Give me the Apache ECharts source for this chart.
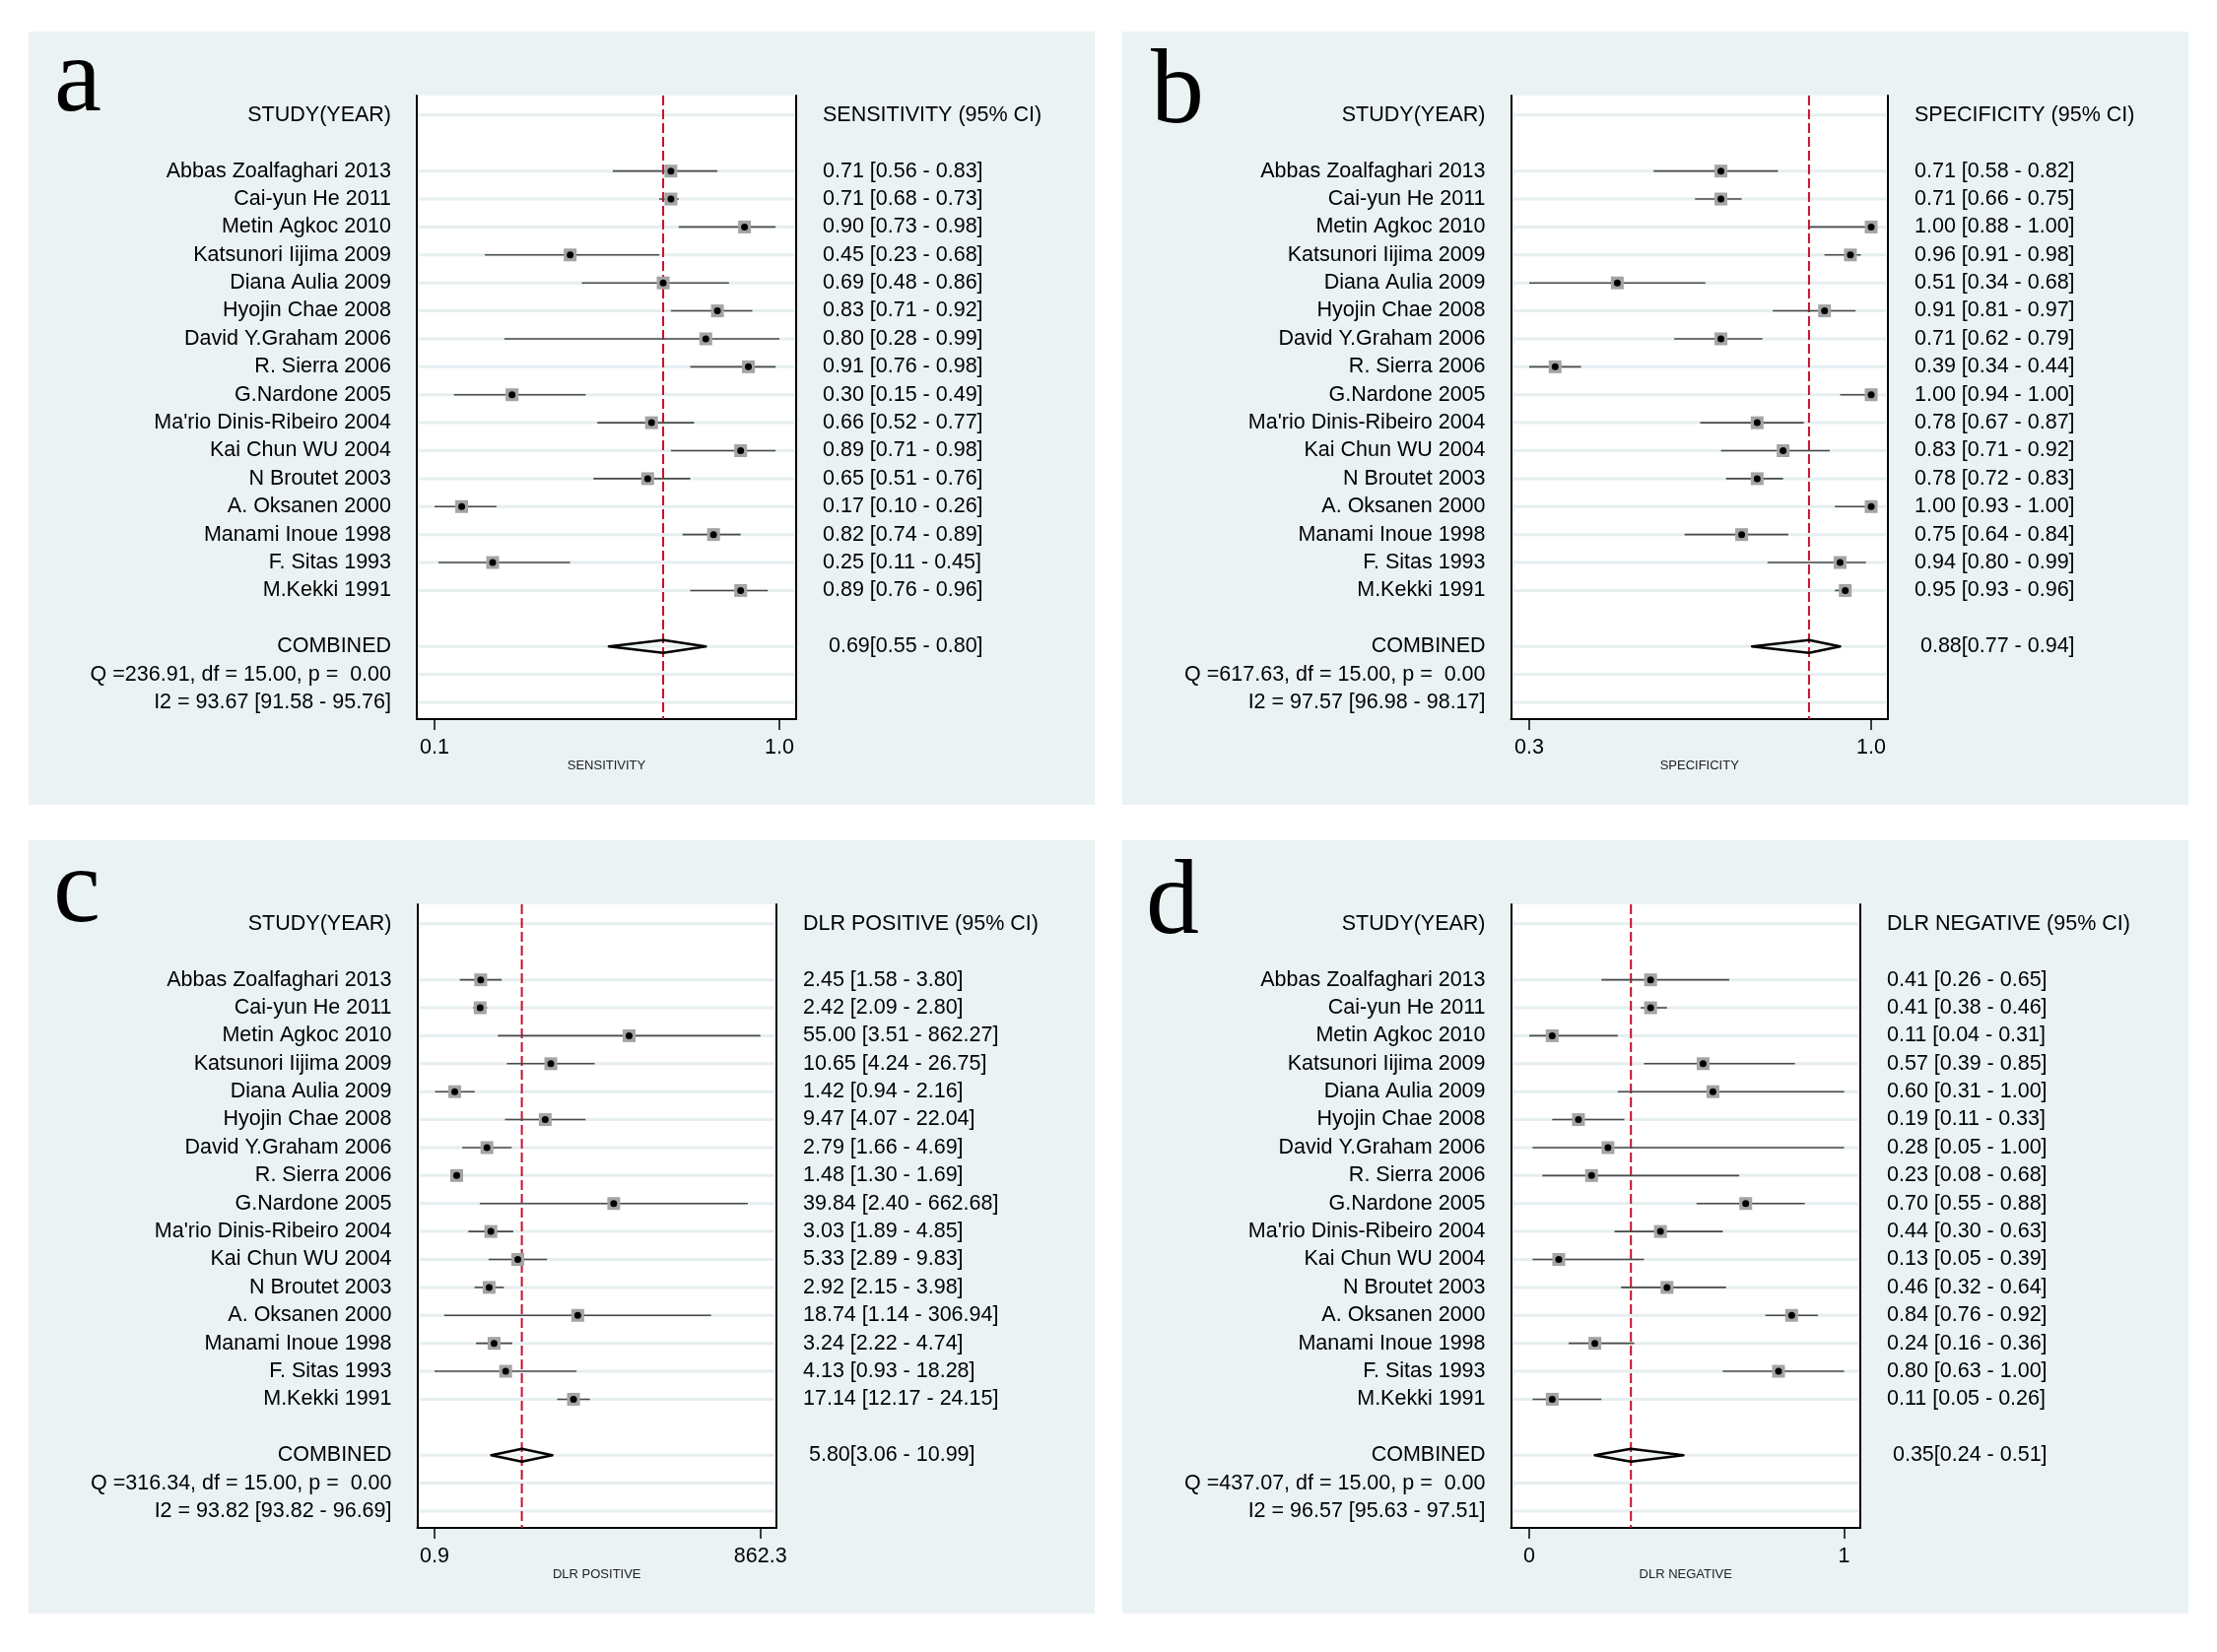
<!DOCTYPE html>
<html>
<head>
<meta charset="utf-8">
<script src="https://cdn.jsdelivr.net/npm/echarts@6/dist/echarts.min.js"></script>
<style>html,body{margin:0;padding:0;background:#fff}#c{width:2250px;height:1677px}</style>
</head>
<body>
<div id="c"></div>
<script>
// ---------------- DATA ----------------
const studies = ["Abbas Zoalfaghari 2013","Cai-yun He 2011","Metin Agkoc 2010","Katsunori Iijima 2009","Diana Aulia 2009","Hyojin Chae 2008","David Y.Graham 2006","R. Sierra 2006","G.Nardone 2005","Ma'rio Dinis-Ribeiro 2004","Kai Chun WU 2004","N Broutet 2003","A. Oksanen 2000","Manami Inoue 1998","F. Sitas 1993","M.Kekki 1991"];

const sensEst = [0.71,0.71,0.90,0.45,0.69,0.83,0.80,0.91,0.30,0.66,0.89,0.65,0.17,0.82,0.25,0.89];
const sensLo  = [0.56,0.68,0.73,0.23,0.48,0.71,0.28,0.76,0.15,0.52,0.71,0.51,0.10,0.74,0.11,0.76];
const sensHi  = [0.83,0.73,0.98,0.68,0.86,0.92,0.99,0.98,0.49,0.77,0.98,0.76,0.26,0.89,0.45,0.96];
const sensCombined = [0.69,0.55,0.80];
const sensQ  = [236.91,15.00,0.00];
const sensI2 = [93.67,91.58,95.76];
const sensTicks = [0.10,0.99];
const sensTickLabels = ["0.1","1.0"];

const specEst = [0.71,0.71,1.00,0.96,0.51,0.91,0.71,0.39,1.00,0.78,0.83,0.78,1.00,0.75,0.94,0.95];
const specLo  = [0.58,0.66,0.88,0.91,0.34,0.81,0.62,0.34,0.94,0.67,0.71,0.72,0.93,0.64,0.80,0.93];
const specHi  = [0.82,0.75,1.00,0.98,0.68,0.97,0.79,0.44,1.00,0.87,0.92,0.83,1.00,0.84,0.99,0.96];
const specCombined = [0.88,0.77,0.94];
const specQ  = [617.63,15.00,0.00];
const specI2 = [97.57,96.98,98.17];
const specTicks = [0.34,1.00];
const specTickLabels = ["0.3","1.0"];

const plrEst = [2.45,2.42,55.00,10.65,1.42,9.47,2.79,1.48,39.84,3.03,5.33,2.92,18.74,3.24,4.13,17.14];
const plrLo  = [1.58,2.09,3.51,4.24,0.94,4.07,1.66,1.30,2.40,1.89,2.89,2.15,1.14,2.22,0.93,12.17];
const plrHi  = [3.80,2.80,862.27,26.75,2.16,22.04,4.69,1.69,662.68,4.85,9.83,3.98,306.94,4.74,18.28,24.15];
const plrCombined = [5.80,3.06,10.99];
const plrQ  = [316.34,15.00,0.00];
const plrI2 = [93.82,93.82,96.69];
const plrTicks = [0.93,862.27];
const plrTickLabels = ["0.9","862.3"];

const nlrEst = [0.41,0.41,0.11,0.57,0.60,0.19,0.28,0.23,0.70,0.44,0.13,0.46,0.84,0.24,0.80,0.11];
const nlrLo  = [0.26,0.38,0.04,0.39,0.31,0.11,0.05,0.08,0.55,0.30,0.05,0.32,0.76,0.16,0.63,0.05];
const nlrHi  = [0.65,0.46,0.31,0.85,1.00,0.33,1.00,0.68,0.88,0.63,0.39,0.64,0.92,0.36,1.00,0.26];
const nlrCombined = [0.35,0.24,0.51];
const nlrQ  = [437.07,15.00,0.00];
const nlrI2 = [96.57,95.63,97.51];
const nlrTicks = [0.04,1.00];
const nlrTickLabels = ["0","1"];

const panelLetters = ["a","b","c","d"];
const leftHeader = "STUDY(YEAR)";
const combinedLabel = "COMBINED";
const rightHeaders = ["SENSITIVITY (95% CI)","SPECIFICITY (95% CI)","DLR POSITIVE (95% CI)","DLR NEGATIVE (95% CI)"];
const axisNames = ["SENSITIVITY","SPECIFICITY","DLR POSITIVE","DLR NEGATIVE"];

// ---------------- LAYOUT / STYLE ----------------
const FONT = '"Liberation Sans", Arial, sans-serif';
const SERIF = '"Liberation Serif", "Times New Roman", serif';
const layout = [
  {bg:[29,32,1082,785],   grid:[423,97,385,633],      letter:[55,84],   type:'value', range:[0.0542,1.0332]},
  {bg:[1139,32,1082,785], grid:[1533.5,97,382.5,633], letter:[1168,96], type:'value', range:[0.3048,1.0323]},
  {bg:[29,853,1082,785],  grid:[423.5,918,364.5,633], letter:[54,907],  type:'log',   range:[0.6478,1207.8]},
  {bg:[1139,853,1082,785],grid:[1533.5,918,354.5,633],letter:[1163,919],type:'value', range:[-0.0156,1.0493]}
];
const Y_RANGE = [-0.70, 21.60];
const HEADER_ROW = 0, FIRST_STUDY_ROW = 2, COMBINED_ROW = 19, Q_ROW = 20, I2_ROW = 21;

const panels = [
  {est:sensEst, lo:sensLo, hi:sensHi, comb:sensCombined, q:sensQ, i2:sensI2, ticks:sensTicks, tickLabels:sensTickLabels},
  {est:specEst, lo:specLo, hi:specHi, comb:specCombined, q:specQ, i2:specI2, ticks:specTicks, tickLabels:specTickLabels},
  {est:plrEst,  lo:plrLo,  hi:plrHi,  comb:plrCombined,  q:plrQ,  i2:plrI2,  ticks:plrTicks,  tickLabels:plrTickLabels},
  {est:nlrEst,  lo:nlrLo,  hi:nlrHi,  comb:nlrCombined,  q:nlrQ,  i2:nlrI2,  ticks:nlrTicks,  tickLabels:nlrTickLabels}
];

const f2 = v => v.toFixed(2);

const grids = [], xAxes = [], yAxes = [], series = [], graphics = [];

panels.forEach((p, k) => {
  const L = layout[k];
  graphics.push({type:'rect', z:-10, silent:true, shape:{x:L.bg[0], y:L.bg[1], width:L.bg[2], height:L.bg[3]}, style:{fill:'#eaf2f3'}});
  graphics.push({type:'text', z:10, silent:true, x:L.letter[0], y:L.letter[1],
    style:{text:panelLetters[k], font:'108px ' + SERIF, fill:'#000', align:'left', verticalAlign:'middle'}});

  grids.push({left:L.grid[0], top:L.grid[1], width:L.grid[2], height:L.grid[3], show:true, backgroundColor:'#ffffff', borderWidth:0, containLabel:false});

  const leftText = {}, rightText = {};
  leftText[HEADER_ROW] = leftHeader;
  rightText[HEADER_ROW] = rightHeaders[k];
  studies.forEach((s, i) => {
    leftText[FIRST_STUDY_ROW + i] = s;
    rightText[FIRST_STUDY_ROW + i] = f2(p.est[i]) + ' [' + f2(p.lo[i]) + ' - ' + f2(p.hi[i]) + ']';
  });
  leftText[COMBINED_ROW] = combinedLabel;
  rightText[COMBINED_ROW] = ' ' + f2(p.comb[0]) + '[' + f2(p.comb[1]) + ' - ' + f2(p.comb[2]) + ']';
  leftText[Q_ROW] = 'Q =' + f2(p.q[0]) + ', df = ' + f2(p.q[1]) + ', p =  ' + f2(p.q[2]);
  leftText[I2_ROW] = 'I2 = ' + f2(p.i2[0]) + ' [' + f2(p.i2[1]) + ' - ' + f2(p.i2[2]) + ']';
  const leftRows = Object.keys(leftText).map(Number);
  const rightRows = Object.keys(rightText).map(Number);

  const nearestTick = v => {
    let best = 0, bd = Infinity;
    p.ticks.forEach((t, i) => { const d = Math.abs(v - t) / Math.max(Math.abs(t), 1e-9); if (d < bd) { bd = d; best = i; } });
    return p.tickLabels[best];
  };

  xAxes.push({
    gridIndex:k, type:L.type, logBase:10, min:L.range[0], max:L.range[1], position:'bottom',
    axisLine:{show:true, onZero:false, lineStyle:{color:'#000', width:2}},
    axisTick:{show:true, customValues:p.ticks, length:11, lineStyle:{color:'#000', width:1.5}},
    axisLabel:{show:true, customValues:p.ticks, formatter:v => nearestTick(v), margin:18, fontSize:21.5, color:'#000', fontFamily:FONT},
    splitLine:{show:false}, minorTick:{show:false},
    name:axisNames[k], nameLocation:'middle', nameGap:41,
    nameTextStyle:{fontSize:13, color:'#222', fontFamily:FONT}
  });

  yAxes.push({
    gridIndex:k, type:'value', inverse:true, min:Y_RANGE[0], max:Y_RANGE[1], position:'left',
    axisLine:{show:true, onZero:false, lineStyle:{color:'#000', width:2}},
    axisTick:{show:false}, splitLine:{show:false},
    axisLabel:{show:true, customValues:leftRows, formatter:v => leftText[Math.round(v)] || '', margin:26, fontSize:21.5, color:'#000', fontFamily:FONT}
  });
  yAxes.push({
    gridIndex:k, type:'value', inverse:true, min:Y_RANGE[0], max:Y_RANGE[1], position:'right',
    axisLine:{show:true, onZero:false, lineStyle:{color:'#000', width:2}},
    axisTick:{show:false}, splitLine:{show:false},
    axisLabel:{show:true, customValues:rightRows, formatter:v => rightText[Math.round(v)] || '', margin:27, align:'left', fontSize:21.5, color:'#000', fontFamily:FONT}
  });

  const yi = 2 * k;
  const gridRows = [HEADER_ROW].concat(studies.map((s, i) => FIRST_STUDY_ROW + i), [COMBINED_ROW, Q_ROW, I2_ROW]);

  series.push({
    type:'custom', xAxisIndex:k, yAxisIndex:yi, z:1, silent:true, clip:false,
    encode:{x:0, y:1},
    data:gridRows.map(r => [p.comb[0], r]),
    renderItem:(params, api) => {
      const cs = params.coordSys;
      const y = api.coord([api.value(0), api.value(1)])[1];
      return {type:'line', shape:{x1:cs.x + 2, y1:y, x2:cs.x + cs.width - 2, y2:y}, style:{stroke:'#e6eef0', lineWidth:3}};
    }
  });
  series.push({
    type:'custom', xAxisIndex:k, yAxisIndex:yi, z:2, silent:true, clip:false,
    encode:{x:0, y:1},
    data:[[p.comb[0], COMBINED_ROW]],
    renderItem:(params, api) => {
      const cs = params.coordSys;
      const x = api.coord([api.value(0), api.value(1)])[0];
      return {type:'line', shape:{x1:x, y1:cs.y, x2:x, y2:cs.y + cs.height}, style:{stroke:'#c8102e', lineWidth:2, lineDash:[10,4]}};
    }
  });
  series.push({
    type:'custom', xAxisIndex:k, yAxisIndex:yi, z:3, silent:true, clip:false,
    encode:{x:[0,1,2], y:3},
    data:p.est.map((e, i) => [e, p.lo[i], p.hi[i], FIRST_STUDY_ROW + i]),
    renderItem:(params, api) => {
      const row = api.value(3);
      const c = api.coord([api.value(0), row]);
      const a = api.coord([api.value(1), row]);
      const b = api.coord([api.value(2), row]);
      return {type:'group', children:[
        {type:'line', shape:{x1:a[0], y1:a[1], x2:b[0], y2:b[1]}, style:{stroke:'#4a4a4a', lineWidth:1.6}},
        {type:'rect', shape:{x:c[0] - 6.5, y:c[1] - 6.5, width:13, height:13}, style:{fill:'#a4a4a4'}},
        {type:'circle', shape:{cx:c[0], cy:c[1], r:3.5}, style:{fill:'#000'}}
      ]};
    }
  });
  series.push({
    type:'custom', xAxisIndex:k, yAxisIndex:yi, z:4, silent:true, clip:false,
    encode:{x:[0,1,2], y:3},
    data:[[p.comb[0], p.comb[1], p.comb[2], COMBINED_ROW]],
    renderItem:(params, api) => {
      const row = api.value(3);
      const c = api.coord([api.value(0), row]);
      const a = api.coord([api.value(1), row]);
      const b = api.coord([api.value(2), row]);
      return {type:'polygon', shape:{points:[[a[0], c[1]], [c[0], c[1] - 6.5], [b[0], c[1]], [c[0], c[1] + 6.5]]},
        style:{fill:'rgba(255,255,255,0)', stroke:'#000', lineWidth:2.6, lineJoin:'round'}};
    }
  });
});

const chart = echarts.init(document.getElementById('c'), null, {renderer:'canvas', width:2250, height:1677});
chart.setOption({
  animation:false,
  backgroundColor:'#ffffff',
  textStyle:{fontFamily:FONT},
  grid:grids,
  xAxis:xAxes,
  yAxis:yAxes,
  series:series,
  graphic:graphics
});
</script>
</body>
</html>
